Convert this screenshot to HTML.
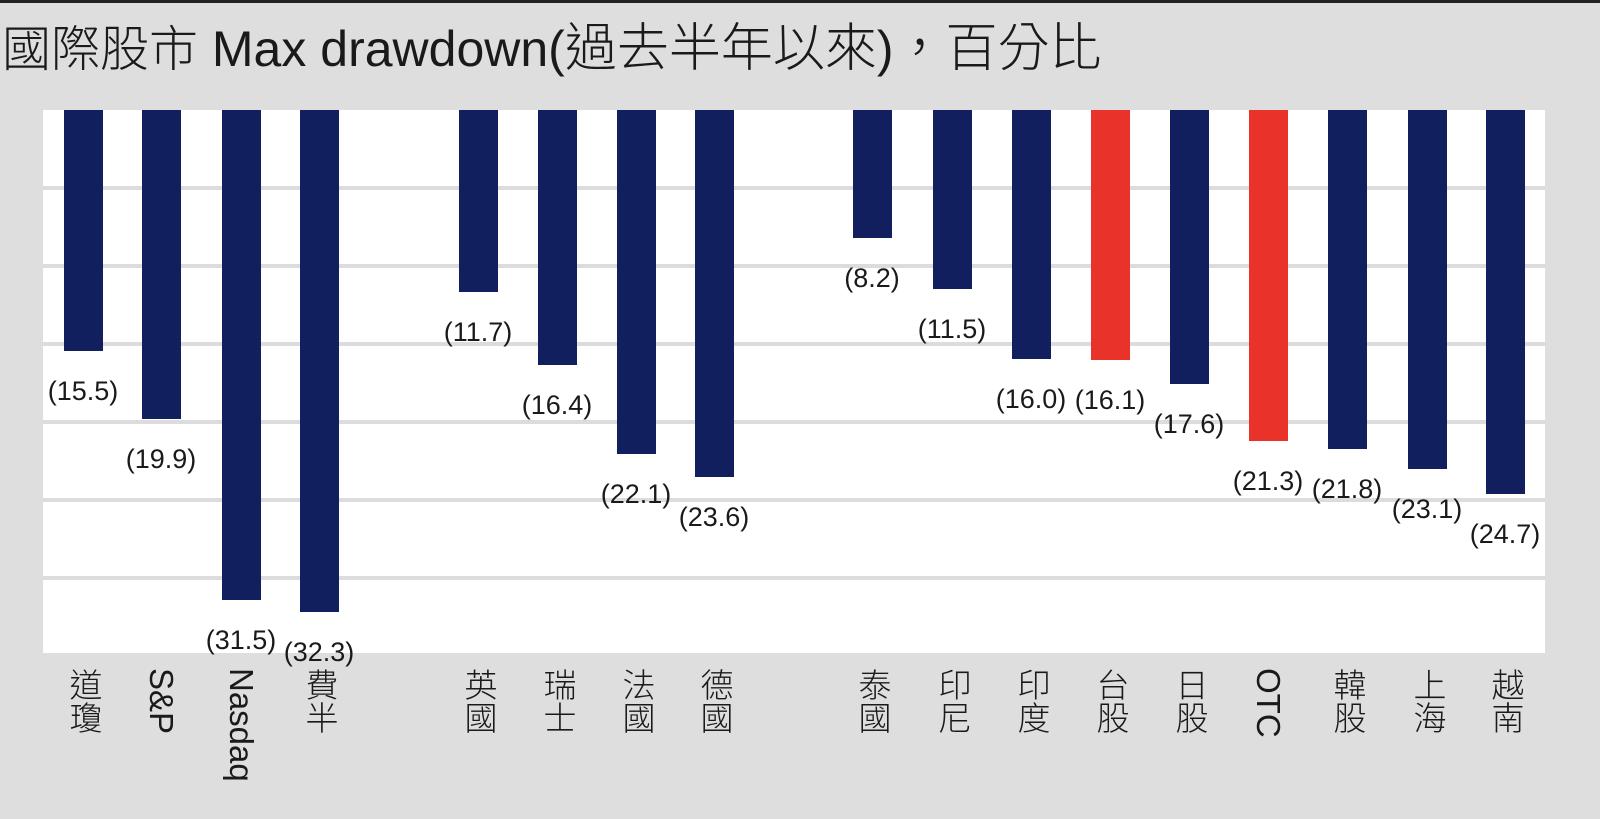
<!DOCTYPE html>
<html><head><meta charset="utf-8"><style>
body{margin:0;width:1600px;height:819px;background:#dedede;position:relative;overflow:hidden;font-family:"Liberation Sans","Noto Sans CJK TC",sans-serif;color:#1a1a1a}
.top{position:absolute;left:0;top:0;width:1600px;height:3px;background:#222}
.title{position:absolute;left:2px;top:6px;font-size:49px;white-space:nowrap;font-family:"Noto Sans CJK TC",sans-serif;font-weight:300}
.title .l{font-family:"Liberation Sans",sans-serif;font-size:50px;font-weight:normal}
.title .b{font-size:52px}
.plot{position:absolute;left:43px;top:110px;width:1502px;height:543px;background:#fff}
.g{position:absolute;left:43px;width:1502px;height:4px;background:#dcdcdc}
.bar{position:absolute;width:39px;top:110px;background:#111f5e}
.red{background:#e8322a}
.v{position:absolute;width:120px;text-align:center;font-size:27px;white-space:nowrap}
.x{position:absolute;top:668px;writing-mode:vertical-rl;font-size:33px;line-height:36px;width:36px;white-space:nowrap;font-family:"Liberation Sans","Noto Sans CJK TC",sans-serif;font-weight:300}
</style></head><body>
<div class="top"></div>
<div class="title">國際股市<span class="l"> Max drawdown(</span><span class="b">過去半年以來</span><span class="l">)</span><span class="b">，百分比</span></div>
<div class="plot"></div>
<div class="g" style="top:186px"></div>
<div class="g" style="top:264px"></div>
<div class="g" style="top:342px"></div>
<div class="g" style="top:420px"></div>
<div class="g" style="top:498px"></div>
<div class="g" style="top:576px"></div>
<div id="c"></div>
<script>
const d=[[83,15.5,'道瓊'],[161,19.9,'S&P'],[241,31.5,'Nasdaq'],[319,32.3,'費半'],
[478,11.7,'英國'],[557,16.4,'瑞士'],[636,22.1,'法國'],[714,23.6,'德國'],
[872,8.2,'泰國'],[952,11.5,'印尼'],[1031,16.0,'印度'],[1110,16.1,'台股',1],[1189,17.6,'日股'],[1268,21.3,'OTC',1],[1347,21.8,'韓股'],[1427,23.1,'上海'],[1505,24.7,'越南']];
let h='';
for(const [cx,v,l,r] of d){
 const hh=v*15.55;
 h+=`<div class="bar${r?' red':''}" style="left:${cx-19.5}px;height:${hh}px"></div>`;
 h+=`<div class="v" style="left:${cx-60}px;top:${110+hh+25}px">(${v.toFixed(1)})</div>`;
 h+=`<div class="x" style="left:${cx-18}px">${l.replace('&','&amp;')}</div>`;
}
document.getElementById('c').innerHTML=h;
</script>
</body></html>
